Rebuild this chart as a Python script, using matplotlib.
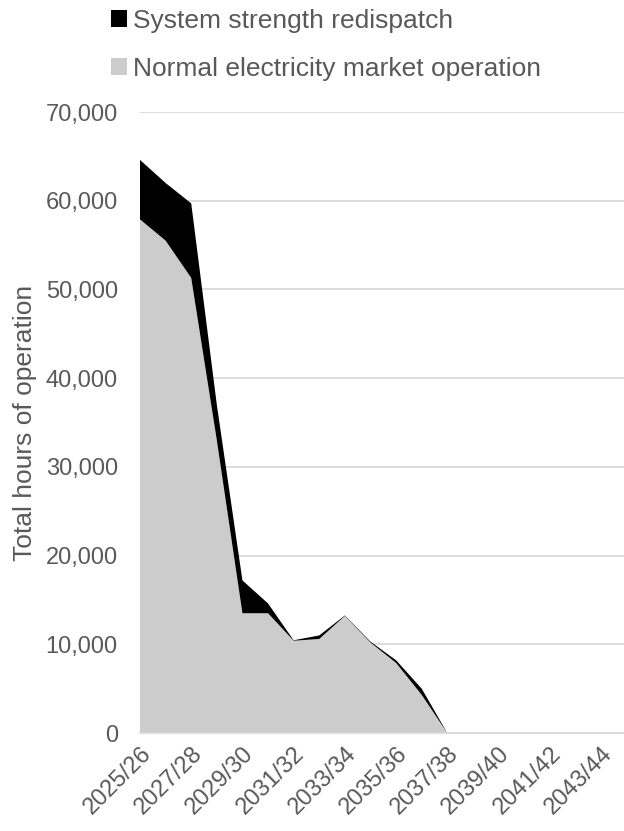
import matplotlib.pyplot as plt
from matplotlib.patches import Patch

plt.rcParams['font.family'] = ['Liberation Sans', 'DejaVu Sans']

years = ["2025/26", "2026/27", "2027/28", "2028/29", "2029/30", "2030/31",
         "2031/32", "2032/33", "2033/34", "2034/35", "2035/36", "2036/37",
         "2037/38", "2038/39", "2039/40", "2040/41", "2041/42", "2042/43",
         "2043/44", "2044/45"]
normal_hours = [57900, 55500, 51300, 33000, 13500, 13500, 10400, 10600, 13200,
                10200, 7900, 4300, 0, 0, 0, 0, 0, 0, 0, 0]
redispatch_hours = [6700, 6500, 8400, 4000, 3700, 1100, 50, 400, 50,
                    100, 300, 700, 0, 0, 0, 0, 0, 0, 0, 0]

TEXT = "#595959"
GREY = "#cccccc"
GRID = "#d9d9d9"

fig = plt.figure(figsize=(6.24, 8.31), dpi=100)
ax = fig.add_axes([140 / 624, 1 - 733 / 831, 1 - 140 / 624, (733 - 112) / 831])

x = list(range(len(years)))
ax.stackplot(x, normal_hours, redispatch_hours, colors=[GREY, "black"],
             linewidth=0, zorder=2)

ax.set_xlim(0, 18.9)
ax.set_ylim(0, 70000)
ax.set_yticks(range(0, 70001, 10000))
ax.set_yticklabels([f"{v:,}" for v in range(0, 70001, 10000)])
ax.set_xticks(x[::2])
ax.set_xticklabels(years[::2], rotation=45, ha="right", rotation_mode="anchor")

ax.grid(axis="y", color=GRID, linewidth=1.3, zorder=1)
ax.set_axisbelow(True)
for side in ["left", "right", "top"]:
    ax.spines[side].set_visible(False)
ax.spines["bottom"].set_color(GRID)
ax.spines["bottom"].set_linewidth(1.3)
ax.tick_params(axis="both", length=0, colors=TEXT, labelsize=17)
ax.tick_params(axis="y", pad=16)
ax.tick_params(axis="x", pad=7)

ax.set_ylabel("Total hours of operation", color=TEXT, fontsize=19, labelpad=6)

handles = [Patch(facecolor="black"), Patch(facecolor=GREY)]
labels = ["System strength redispatch", "Normal electricity market operation"]
fig.legend(handles, labels, loc="upper left", bbox_to_anchor=(87 / 624, 1.018),
           frameon=False, fontsize=19, labelcolor=TEXT, handlelength=0.6,
           handleheight=0.6, handletextpad=0.25, labelspacing=0.9)

fig.savefig("out.png", dpi=100)
